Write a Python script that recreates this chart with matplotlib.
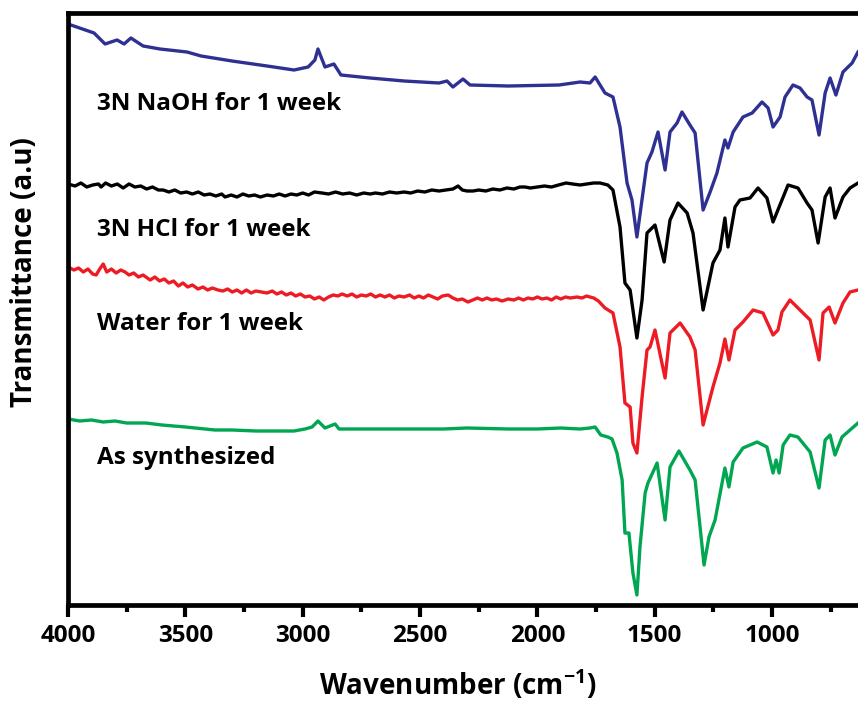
import matplotlib
matplotlib.use("Agg")
import matplotlib.pyplot as plt
import numpy as np

plt.rcParams['font.family'] = ['Open Sans', 'DejaVu Sans']
plt.rcParams['mathtext.fontset'] = 'custom'
plt.rcParams['mathtext.rm'] = 'Open Sans:bold'
plt.rcParams['mathtext.it'] = 'Open Sans:bold'

# 3N NaOH for 1 week
naoh_wn = [4000, 3889, 3842, 3791, 3761, 3732, 3680, 3608, 3493, 3433, 3301, 3152, 3037,
           2977, 2948, 2935, 2905, 2867, 2837, 2713, 2568, 2419, 2385, 2360, 2317, 2287,
           2125, 1908, 1818, 1776, 1754, 1712, 1678, 1648, 1618, 1597, 1576, 1533, 1512,
           1486, 1456, 1435, 1405, 1384, 1350, 1328, 1294, 1264, 1235, 1201, 1188, 1166,
           1124, 1085, 1043, 1017, 996, 966, 945, 911, 881, 851, 830, 800, 774, 753, 728,
           698, 659, 634]
naoh_t = [5.81, 5.72, 5.61, 5.65, 5.61, 5.67, 5.59, 5.56, 5.53, 5.49, 5.44, 5.39, 5.35,
          5.38, 5.45, 5.56, 5.38, 5.41, 5.30, 5.27, 5.24, 5.22, 5.24, 5.18, 5.26, 5.20,
          5.19, 5.20, 5.23, 5.22, 5.28, 5.12, 5.08, 4.78, 4.22, 4.05, 3.68, 4.42, 4.53,
          4.73, 4.35, 4.73, 4.82, 4.93, 4.80, 4.72, 3.95, 4.13, 4.32, 4.65, 4.57, 4.73,
          4.88, 4.92, 5.03, 4.97, 4.78, 4.88, 5.08, 5.20, 5.17, 5.08, 5.05, 4.70, 5.12,
          5.27, 5.10, 5.33, 5.42, 5.53]

# 3N HCl for 1 week
hcl_wn = [4000, 3970, 3945, 3920, 3895, 3870, 3859, 3840, 3815, 3790, 3765, 3740, 3715,
          3690, 3665, 3640, 3615, 3595, 3570, 3545, 3520, 3495, 3470, 3445, 3420, 3395,
          3370, 3345, 3331, 3305, 3280, 3255, 3230, 3205, 3180, 3152, 3125, 3100, 3075,
          3050, 3025, 3000, 2975, 2950, 2918, 2890, 2860, 2830, 2800, 2770, 2740, 2713,
          2690, 2660, 2630, 2600, 2568, 2540, 2510, 2480, 2450, 2419, 2390, 2360, 2338,
          2320, 2300, 2274, 2250, 2220, 2190, 2160, 2130, 2100, 2075, 2053, 2030, 2000,
          1970, 1940, 1910, 1878, 1850, 1818, 1790, 1760, 1733, 1700, 1678, 1648, 1627,
          1605, 1576, 1554, 1533, 1499, 1460, 1435, 1401, 1362, 1337, 1294, 1252, 1222,
          1201, 1188, 1158, 1137, 1094, 1060, 1022, 996, 958, 932, 890, 851, 830, 804,
          774, 753, 732, 698, 668, 634]
hcl_t = [4.21, 4.19, 4.22, 4.18, 4.20, 4.21, 4.18, 4.22, 4.19, 4.21, 4.17, 4.21, 4.18,
         4.19, 4.16, 4.18, 4.15, 4.15, 4.13, 4.15, 4.12, 4.13, 4.11, 4.13, 4.10, 4.11,
         4.09, 4.11, 4.08, 4.10, 4.08, 4.11, 4.09, 4.10, 4.08, 4.10, 4.09, 4.11, 4.09,
         4.11, 4.10, 4.12, 4.10, 4.13, 4.12, 4.11, 4.13, 4.11, 4.12, 4.10, 4.12, 4.11,
         4.12, 4.11, 4.13, 4.12, 4.13, 4.12, 4.14, 4.13, 4.15, 4.14, 4.15, 4.16, 4.19,
         4.15, 4.14, 4.14, 4.15, 4.14, 4.16, 4.15, 4.17, 4.16, 4.18, 4.18, 4.17, 4.18,
         4.19, 4.18, 4.20, 4.22, 4.21, 4.20, 4.21, 4.22, 4.22, 4.20, 4.15, 3.78, 3.22,
         3.15, 2.67, 3.05, 3.72, 3.80, 3.43, 3.85, 4.02, 3.92, 3.72, 2.95, 3.42, 3.55,
         3.87, 3.58, 3.98, 4.05, 4.07, 4.17, 4.07, 3.83, 4.05, 4.20, 4.17, 4.02, 3.95, 3.62,
         4.08, 4.17, 3.87, 4.08, 4.17, 4.22]

# Water for 1 week
water_wn = [4000, 3975, 3955, 3935, 3915, 3895, 3880, 3865, 3850, 3835, 3815, 3795, 3775,
            3757, 3740, 3720, 3700, 3680, 3668, 3650, 3630, 3610, 3590, 3570, 3550, 3530,
            3510, 3490, 3470, 3446, 3425, 3405, 3385, 3361, 3340, 3320, 3300, 3280, 3260,
            3240, 3220, 3200, 3175, 3152, 3130, 3110, 3090, 3070, 3050, 3030, 3010, 2990,
            2970, 2950, 2930, 2910, 2890, 2870, 2850, 2832, 2810, 2790, 2770, 2750, 2730,
            2710, 2690, 2670, 2650, 2630, 2610, 2590, 2568, 2545, 2525, 2505, 2485, 2465,
            2445, 2425, 2405, 2380, 2360, 2340, 2320, 2296, 2275, 2255, 2235, 2215, 2195,
            2175, 2150, 2125, 2100, 2080, 2060, 2040, 2020, 2000, 1980, 1960, 1940, 1920,
            1900, 1880, 1860, 1831, 1810, 1790, 1776, 1760, 1740, 1712, 1678, 1648, 1627,
            1605, 1593, 1576, 1554, 1533, 1520, 1499, 1456, 1435, 1392, 1350, 1328, 1294,
            1252, 1222, 1201, 1184, 1158, 1124, 1081, 1039, 996, 975, 958, 924, 881, 838,
            800, 783, 757, 732, 698, 668, 634]
water_t = [3.38, 3.35, 3.37, 3.33, 3.36, 3.31, 3.30, 3.36, 3.41, 3.33, 3.36, 3.32, 3.35,
           3.33, 3.30, 3.32, 3.28, 3.30, 3.28, 3.25, 3.28, 3.24, 3.26, 3.22, 3.24, 3.19,
           3.22, 3.18, 3.20, 3.16, 3.18, 3.15, 3.17, 3.15, 3.14, 3.16, 3.13, 3.15, 3.12,
           3.15, 3.12, 3.14, 3.13, 3.12, 3.14, 3.11, 3.13, 3.10, 3.12, 3.09, 3.11, 3.08,
           3.09, 3.06, 3.08, 3.05, 3.08, 3.10, 3.09, 3.11, 3.09, 3.11, 3.08, 3.10, 3.09,
           3.11, 3.08, 3.10, 3.08, 3.10, 3.07, 3.09, 3.08, 3.10, 3.07, 3.09, 3.07, 3.10,
           3.08, 3.06, 3.09, 3.10, 3.07, 3.05, 3.06, 3.03, 3.05, 3.07, 3.05, 3.07, 3.05,
           3.06, 3.04, 3.06, 3.05, 3.07, 3.05, 3.07, 3.06, 3.08, 3.06, 3.07, 3.05, 3.08,
           3.06, 3.08, 3.07, 3.08, 3.07, 3.09, 3.08, 3.07, 3.04, 2.97, 2.92, 2.58, 2.02,
           1.98, 1.62, 1.52, 2.08, 2.55, 2.58, 2.75, 2.27, 2.72, 2.82, 2.68, 2.55, 1.80,
           2.18, 2.42, 2.66, 2.45, 2.75, 2.83, 2.95, 2.92, 2.70, 2.75, 2.93, 3.05, 2.95,
           2.85, 2.45, 2.92, 2.98, 2.82, 3.02, 3.13, 3.15]

# As synthesized
synth_wn = [4000, 3950, 3900, 3850, 3800, 3750, 3668, 3600, 3500, 3374, 3300, 3200, 3100,
            3037, 2990, 2960, 2935, 2905, 2862, 2845, 2800, 2700, 2568, 2400, 2300, 2125,
            2000, 1900, 1818, 1776, 1754, 1730, 1700, 1682, 1661, 1639, 1627, 1610, 1593,
            1576, 1563, 1541, 1529, 1490, 1456, 1435, 1397, 1350, 1328, 1290, 1269, 1243,
            1201, 1184, 1166, 1124, 1064, 1022, 996, 983, 970, 953, 924, 890, 838, 800, 774,
            753, 732, 702, 668, 634]
synth_t = [1.86, 1.84, 1.85, 1.83, 1.84, 1.82, 1.82, 1.80, 1.78, 1.75, 1.75, 1.74, 1.74,
           1.74, 1.76, 1.78, 1.84, 1.77, 1.81, 1.76, 1.76, 1.76, 1.76, 1.76, 1.77, 1.76,
           1.76, 1.77, 1.76, 1.77, 1.78, 1.70, 1.68, 1.66, 1.52, 1.25, 0.72, 0.72, 0.32,
           0.10, 0.58, 1.12, 1.22, 1.42, 0.85, 1.38, 1.54, 1.35, 1.25, 0.40, 0.68, 0.85,
           1.37, 1.18, 1.43, 1.57, 1.63, 1.58, 1.32, 1.45, 1.32, 1.60, 1.70, 1.68, 1.53,
           1.17, 1.65, 1.70, 1.50, 1.68, 1.75, 1.82]

series = [(naoh_wn, naoh_t, '#2E3192', '3N NaOH for 1 week', 4.95),
          (hcl_wn, hcl_t, '#000000', '3N HCl for 1 week', 3.69),
          (water_wn, water_t, '#ED1C24', 'Water for 1 week', 2.75),
          (synth_wn, synth_t, '#00A651', 'As synthesized', 1.41)]

fig = plt.figure(figsize=(8.58, 7.02), dpi=100)
ax = fig.add_axes([68/858, 1-605/702, 1-68/858, (605-13)/702])

for wn, t, col, lab, ty in series:
    ax.plot(wn, t, color=col, lw=2.4, solid_joinstyle='round')
    ax.text(3878, ty, lab, fontsize=17.5, fontweight='bold', va='baseline', ha='left')

ax.set_xlim(4000, 634)
ax.set_ylim(0, 5.92)
ax.set_xticks([4000, 3500, 3000, 2500, 2000, 1500, 1000])
ax.set_xticks([3750, 3250, 2750, 2250, 1750, 1250, 750], minor=True)
ax.set_yticks([])
for lbl in ax.get_xticklabels():
    lbl.set_fontweight('bold')
ax.tick_params(axis='x', which='major', direction='out', length=8.5, width=3,
               labelsize=17.5, pad=5)
ax.tick_params(axis='x', which='minor', direction='out', length=5, width=3)
for s in ['left', 'bottom', 'top']:
    ax.spines[s].set_linewidth(3.4)
ax.spines['right'].set_visible(False)

fig.text(458/858, 1-695/702, 'Wavenumber (cm$^{-1}$)', fontsize=20, fontweight='bold',
         ha='center', va='baseline')
fig.text(25/858, 1-272/702, 'Transmittance (a.u)', fontsize=20, fontweight='bold',
         rotation=90, ha='center', va='center')

fig.savefig('out.png', dpi=100)
